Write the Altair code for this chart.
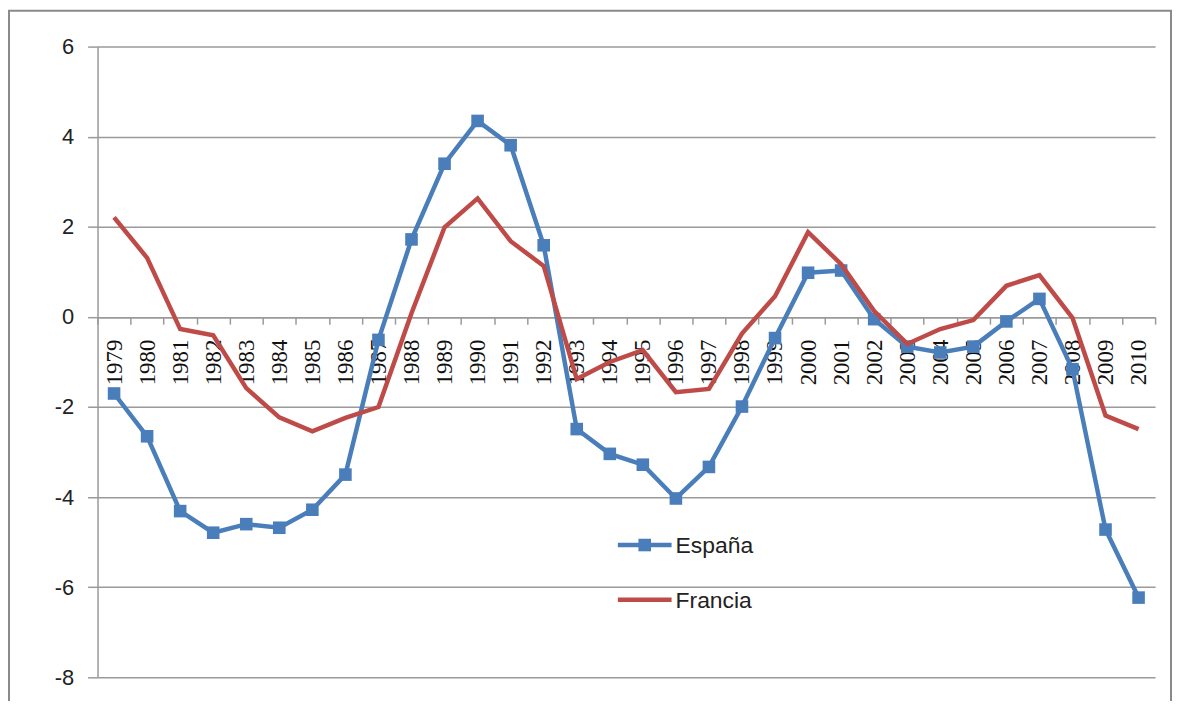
import altair as alt
import pandas as pd

years = ["1979", "1980", "1981", "1982", "1983", "1984", "1985", "1986",
         "1987", "1988", "1989", "1990", "1991", "1992", "1993", "1994",
         "1995", "1996", "1997", "1998", "1999", "2000", "2001", "2002",
         "2003", "2004", "2005", "2006", "2007", "2008", "2009", "2010"]

espana = [-1.70, -2.65, -4.31, -4.79, -4.60, -4.68, -4.28, -3.50,
          -0.51, 1.72, 3.40, 4.35, 3.81, 1.59, -2.49, -3.04,
          -3.28, -4.03, -3.33, -1.99, -0.47, 0.98, 1.03, -0.05,
          -0.66, -0.79, -0.66, -0.10, 0.40, -1.16, -4.72, -6.23]

francia = [2.21, 1.31, -0.27, -0.41, -1.58, -2.23, -2.54, -2.24,
           -2.00, 0.08, 1.99, 2.63, 1.68, 1.13, -1.38, -1.00,
           -0.74, -1.67, -1.60, -0.37, 0.46, 1.88, 1.17, 0.13,
           -0.60, -0.27, -0.07, 0.69, 0.93, -0.02, -2.19, -2.49]

series = ["España", "Francia"]
colors = ["#4A7EBB", "#BE4B48"]
y_ticks = [-8, -6, -4, -2, 0, 2, 4, 6]

rows = []
for i, yr in enumerate(years):
    rows.append({"anio": yr, "serie": series[0], "valor": espana[i]})
    rows.append({"anio": yr, "serie": series[1], "valor": francia[i]})
df = pd.DataFrame(rows)
leg_df = pd.DataFrame({"serie": series})

W, H = 1063, 634
GRID = "#9a9a9a"

x_enc = alt.X(
    "anio:O", sort=years, title=None,
    scale=alt.Scale(type="band", paddingInner=0, paddingOuter=0),
    axis=alt.Axis(
        orient="bottom", offset=-362, grid=False,
        domainColor=GRID, domainWidth=1.5,
        tickColor=GRID, tickWidth=1.5, tickSize=7, tickBand="extent",
        labelAngle=270, labelAlign="right", labelBaseline="middle",
        labelFont="Liberation Serif", labelFontSize=23, labelColor="#111111",
        labelPadding=15, labelOverlap=False,
    ),
)
y_enc = alt.Y(
    "valor:Q", title=None,
    scale=alt.Scale(domain=[-8, 6], nice=False, zero=False),
    axis=alt.Axis(
        values=y_ticks, grid=True, gridColor=GRID, gridWidth=1.5,
        domainColor=GRID, domainWidth=1.5,
        tickColor=GRID, tickWidth=1.5, tickSize=10,
        labelExpr="'' + datum.value",
        labelFont="Liberation Sans", labelFontSize=22, labelColor="#222222",
        labelPadding=14,
    ),
)
color_enc = alt.Color("serie:N", scale=alt.Scale(domain=series, range=colors), legend=None)

base = alt.Chart(df).encode(x=x_enc, y=y_enc, color=color_enc)

esp_line = base.transform_filter(alt.datum.serie == series[0]).mark_line(strokeWidth=4.5)
esp_pts = base.transform_filter(alt.datum.serie == series[0]).mark_point(
    shape="square", filled=True, size=160, opacity=1)
fra_line = base.transform_filter(alt.datum.serie == series[1]).mark_line(strokeWidth=4.5)

# legend (inside plot area)
leg_esp = alt.Chart(leg_df).transform_filter(alt.datum.serie == series[0])
leg_fra = alt.Chart(leg_df).transform_filter(alt.datum.serie == series[1])

l1 = leg_esp.mark_rule(strokeWidth=4.5, color=colors[0]).encode(
    x=alt.value(523), x2=alt.value(577), y=alt.value(501))
l1p = leg_esp.mark_point(shape="square", filled=True, size=160, color=colors[0], opacity=1).encode(
    x=alt.value(550), y=alt.value(501))
l1t = leg_esp.mark_text(align="left", baseline="middle", font="Liberation Sans",
                        fontSize=23, color="#222222").encode(
    x=alt.value(581), y=alt.value(502), text="serie:N")
l2 = leg_fra.mark_rule(strokeWidth=4.5, color=colors[1]).encode(
    x=alt.value(523), x2=alt.value(577), y=alt.value(556))
l2t = leg_fra.mark_text(align="left", baseline="middle", font="Liberation Sans",
                        fontSize=23, color="#222222").encode(
    x=alt.value(581), y=alt.value(557), text="serie:N")

frame = alt.Chart(leg_df.head(1)).mark_rect(fillOpacity=0, stroke="#8a8a8a", strokeWidth=2).encode(
    x=alt.value(-89), x2=alt.value(1079), y=alt.value(-36), y2=alt.value(700))

chart = alt.layer(
    frame, esp_line, esp_pts, fra_line, l1, l1p, l1t, l2, l2t
).properties(
    width=W, height=H,
    padding={"left": 90, "top": 37, "right": 18, "bottom": 22},
    autosize=alt.AutoSizeParams(type="none"),
    background="white",
).configure_view(stroke=None)

chart.save("out.html", embed_options={"renderer": "svg", "actions": False})
